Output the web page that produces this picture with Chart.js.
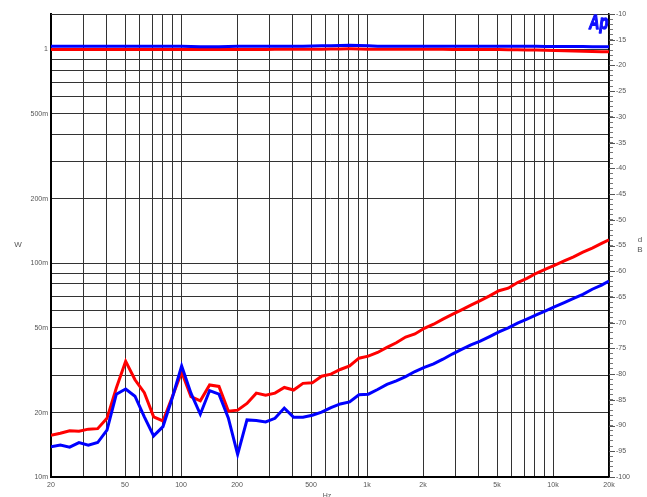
<!DOCTYPE html>
<html>
<head>
<meta charset="UTF-8">
<title>Ap sweep</title>
<script src="https://cdn.jsdelivr.net/npm/chart.js"></script>
<style>
  body { margin: 0; background: #fff; }
  #wrap { width: 647px; height: 497px; }
</style>
</head>
<body>
<div id="wrap"><canvas id="apChart" width="647" height="497"></canvas></div>
<script>
// sweep frequencies (Hz), 1/6 octave steps
const freqs = [20, 22.45, 25.2, 28.28, 31.75, 35.64, 40, 44.9, 50.4, 56.57,
  63.5, 71.27, 80, 89.8, 100.8, 113.1, 127, 142.5, 160, 179.6,
  201.6, 226.3, 254, 285.1, 320, 359.2, 403.2, 452.5, 508, 570.2,
  640, 718.4, 806.3, 905.1, 1016, 1140, 1280, 1437, 1613, 1810,
  2032, 2281, 2560, 2874, 3225, 3620, 4064, 4561, 5120, 5747,
  6451, 7241, 8127, 9123, 10240, 11494, 12902, 14482, 16255, 18246, 20000];

// output power, W (left axis)
const blueW = [1.035, 1.035, 1.035, 1.035, 1.035, 1.035, 1.035, 1.035, 1.035, 1.035,
  1.035, 1.035, 1.035, 1.035, 1.035, 1.034, 1.03, 1.03, 1.031, 1.034,
  1.035, 1.035, 1.035, 1.035, 1.035, 1.035, 1.036, 1.037, 1.038, 1.04,
  1.042, 1.045, 1.046, 1.044, 1.04, 1.037, 1.036, 1.035, 1.035, 1.035,
  1.035, 1.035, 1.035, 1.035, 1.035, 1.035, 1.035, 1.035, 1.035, 1.035,
  1.035, 1.035, 1.035, 1.034, 1.033, 1.033, 1.032, 1.032, 1.031, 1.031, 1.03];
const redW = [1.0, 1.0, 1.0, 1.0, 1.0, 1.0, 1.0, 1.0, 1.0, 1.0,
  1.0, 1.0, 1.0, 1.0, 1.0, 1.0, 1.0, 1.0, 1.0, 1.0,
  1.0, 1.0, 1.001, 1.001, 1.002, 1.002, 1.003, 1.003, 1.004, 1.004,
  1.005, 1.006, 1.007, 1.006, 1.004, 1.003, 1.002, 1.002, 1.002, 1.002,
  1.002, 1.002, 1.002, 1.001, 1.001, 1.0, 1.0, 0.999, 0.999, 0.998,
  0.997, 0.996, 0.994, 0.992, 0.99, 0.988, 0.985, 0.982, 0.979, 0.977, 0.975];

// level, dB (right axis)
const redDb = [-91.9, -91.5, -91.0, -91.1, -90.7, -90.6, -88.6, -82.7, -77.5, -81.1,
  -83.6, -88.3, -89.1, -84.4, -79.6, -84.4, -85.2, -82.1, -82.4, -87.2,
  -87.0, -85.7, -83.7, -84.1, -83.7, -82.6, -83.1, -81.8, -81.7, -80.4,
  -80.0, -79.1, -78.4, -76.9, -76.5, -75.8, -74.8, -73.9, -72.8, -72.2,
  -71.1, -70.3, -69.3, -68.4, -67.5, -66.6, -65.7, -64.8, -63.8, -63.3,
  -62.2, -61.4, -60.4, -59.6, -58.8, -58.0, -57.2, -56.3, -55.5, -54.6, -53.9];
const blueDb = [-94.1, -93.8, -94.2, -93.3, -93.8, -93.3, -90.9, -83.9, -82.9, -84.3,
  -88.3, -92.0, -90.2, -84.6, -78.4, -83.7, -87.8, -83.2, -83.9, -88.5,
  -95.6, -88.9, -89.0, -89.3, -88.6, -86.6, -88.4, -88.4, -88.0, -87.4,
  -86.5, -85.8, -85.4, -84.0, -83.9, -83.0, -82.0, -81.3, -80.5, -79.5,
  -78.7, -78.0, -77.1, -76.1, -75.2, -74.3, -73.6, -72.7, -71.8, -71.0,
  -70.1, -69.3, -68.5, -67.7, -66.9, -66.1, -65.3, -64.5, -63.5, -62.7, -61.9];

// axis ticks
const xGrid = [20, 30, 40, 50, 60, 70, 80, 90, 100, 200, 300, 400, 500, 600, 700, 800, 900,
  1000, 2000, 3000, 4000, 5000, 6000, 7000, 8000, 9000, 10000, 20000];
const xLabelVals = [20, 50, 100, 200, 500, 1000, 2000, 5000, 10000, 20000];
const xLabelTexts = ['20', '50', '100', '200', '500', '1k', '2k', '5k', '10k', '20k'];
const wGrid = [0.01, 0.02, 0.03, 0.04, 0.05, 0.06, 0.07, 0.08, 0.09, 0.1,
  0.2, 0.3, 0.4, 0.5, 0.6, 0.7, 0.8, 0.9, 1];
const wLabelVals = [0.01, 0.02, 0.05, 0.1, 0.2, 0.5, 1];
const wLabelTexts = ['10m', '20m', '50m', '100m', '200m', '500m', '1'];
const dbMin = -100, dbMax = -10;

const pts = (vals) => vals.map((v, i) => ({ x: freqs[i], y: v }));
const pickLabel = (vals, texts, v) => {
  const i = vals.findIndex(a => Math.abs(a - v) / a < 1e-6);
  return i >= 0 ? texts[i] : '';
};

const tickFont = { family: '"Liberation Sans", Arial, sans-serif', size: 7 };
const tickColor = '#555';

const extras = {
  id: 'extras',
  afterDraw(chart) {
    const ctx = chart.ctx;
    const a = chart.chartArea;
    const db = chart.scales.yDb;
    ctx.save();
    // top frame line
    ctx.strokeStyle = '#333';
    ctx.lineWidth = 1;
    ctx.beginPath();
    ctx.moveTo(a.left, a.top + 0.5);
    ctx.lineTo(a.right, a.top + 0.5);
    ctx.stroke();
    // longer major ticks on the dB axis
    ctx.strokeStyle = '#555';
    ctx.beginPath();
    for (let v = dbMin; v <= dbMax; v += 5) {
      const y = Math.round(db.getPixelForValue(v)) + 0.5;
      ctx.moveTo(a.right, y);
      ctx.lineTo(a.right + 6, y);
    }
    ctx.stroke();
    // axis titles
    ctx.fillStyle = tickColor;
    ctx.font = '8px "Liberation Sans", Arial, sans-serif';
    ctx.textAlign = 'center';
    ctx.textBaseline = 'middle';
    ctx.fillText('W', 18, 245);
    ctx.fillText('d', 640, 240);
    ctx.fillText('B', 640, 250);
    ctx.font = '7px "Liberation Sans", Arial, sans-serif';
    ctx.textBaseline = 'top';
    ctx.fillText('Hz', 327, 493);
    // logo
    ctx.fillStyle = '#1010ff';
    ctx.strokeStyle = '#1010ff';
    ctx.lineWidth = 1.4;
    ctx.lineJoin = 'round';
    ctx.font = 'italic bold 20px "Liberation Sans", Arial, sans-serif';
    ctx.textAlign = 'left';
    ctx.textBaseline = 'alphabetic';
    ctx.translate(589, 29);
    ctx.scale(0.72, 1);
    ctx.fillText('Ap', 0, 0);
    ctx.strokeText('Ap', 0, 0);
    ctx.restore();
  }
};

new Chart(document.getElementById('apChart'), {
  type: 'line',
  data: {
    datasets: [
      { data: pts(blueW), yAxisID: 'yW', borderColor: '#0000ff', borderWidth: 3 },
      { data: pts(redW), yAxisID: 'yW', borderColor: '#ff0000', borderWidth: 3 },
      { data: pts(blueDb), yAxisID: 'yDb', borderColor: '#0000ff', borderWidth: 3 },
      { data: pts(redDb), yAxisID: 'yDb', borderColor: '#ff0000', borderWidth: 3 }
    ]
  },
  options: {
    responsive: false,
    animation: false,
    devicePixelRatio: 1,
    layout: { padding: { top: 14, left: 0, right: 0, bottom: 0 } },
    elements: { point: { radius: 0 }, line: { tension: 0 } },
    plugins: { legend: { display: false }, tooltip: { enabled: false } },
    scales: {
      x: {
        type: 'logarithmic',
        min: 20, max: 20000,
        afterBuildTicks: s => { s.ticks = xGrid.map(v => ({ value: v })); },
        afterFit: s => { s.height = 20; },
        grid: { color: '#333', lineWidth: 1, drawTicks: false },
        border: { display: true, color: '#000', width: 2 },
        ticks: {
          autoSkip: false, maxRotation: 0, padding: 4,
          font: tickFont, color: tickColor,
          callback: v => pickLabel(xLabelVals, xLabelTexts, v)
        }
      },
      yW: {
        type: 'logarithmic',
        position: 'left',
        min: 0.01, max: 1.466,
        afterBuildTicks: s => { s.ticks = wGrid.map(v => ({ value: v })); },
        afterFit: s => { s.width = 51; },
        grid: { color: '#333', lineWidth: 1, drawTicks: false },
        border: { display: true, color: '#000', width: 2 },
        ticks: {
          autoSkip: false, padding: 3,
          font: tickFont, color: tickColor,
          callback: v => pickLabel(wLabelVals, wLabelTexts, v)
        }
      },
      yDb: {
        type: 'linear',
        position: 'right',
        min: dbMin, max: dbMax,
        afterBuildTicks: s => {
          const t = [];
          for (let v = dbMin; v <= dbMax; v++) t.push({ value: v });
          s.ticks = t;
        },
        afterFit: s => { s.width = 38; },
        grid: { drawOnChartArea: false, drawTicks: true, tickLength: 4, tickColor: '#777' },
        border: { display: true, color: '#000', width: 1.5 },
        ticks: {
          autoSkip: false, padding: 3,
          font: tickFont, color: tickColor,
          callback: v => (v % 5 === 0 ? String(v) : '')
        }
      }
    }
  },
  plugins: [extras]
});
</script>
</body>
</html>
